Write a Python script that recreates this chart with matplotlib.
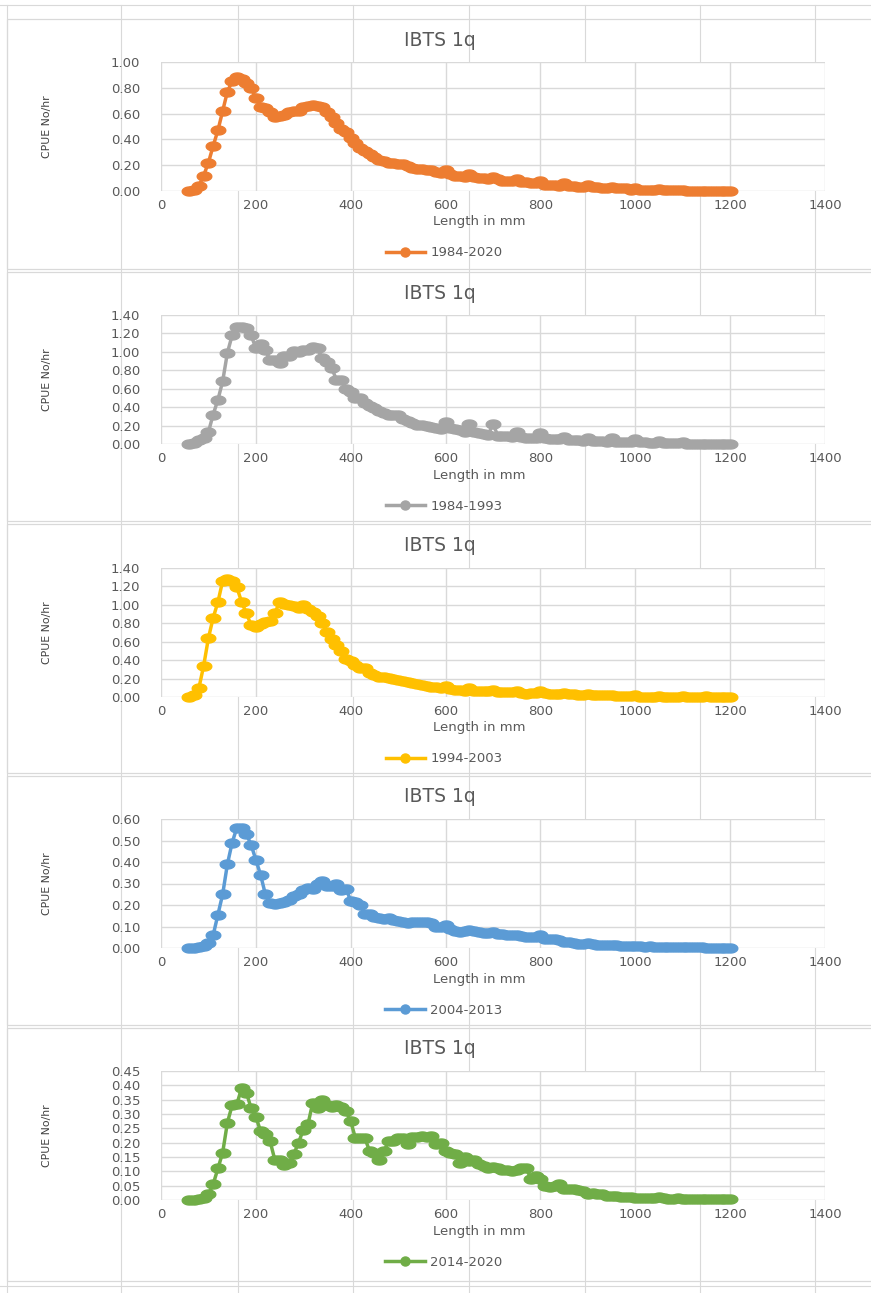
import matplotlib.pyplot as plt
from matplotlib.patches import Rectangle
from matplotlib.path import Path
from matplotlib.lines import Line2D
import numpy as np

plt.rcParams['font.family'] = ['DejaVu Sans']

# lengths in mm, 60..1200 by 10
length = list(range(60, 1210, 10))

cpue_1984_2020 = [
    0.00, 0.01, 0.04, 0.12, 0.22, 0.35, 0.47, 0.62, 0.77, 0.85,
    0.88, 0.87, 0.84, 0.80, 0.72, 0.65, 0.64, 0.61, 0.57, 0.58,
    0.59, 0.61, 0.62, 0.62, 0.65, 0.66, 0.67, 0.66, 0.65, 0.61,
    0.57, 0.53, 0.48, 0.46, 0.41, 0.37, 0.33, 0.31, 0.29, 0.26,
    0.24, 0.23, 0.22, 0.22, 0.21, 0.21, 0.19, 0.18, 0.17, 0.17,
    0.16, 0.16, 0.15, 0.14, 0.16, 0.13, 0.12, 0.12, 0.11, 0.13,
    0.11, 0.10, 0.10, 0.09, 0.11, 0.09, 0.08, 0.08, 0.08, 0.09,
    0.07, 0.07, 0.06, 0.06, 0.08, 0.05, 0.05, 0.05, 0.04, 0.06,
    0.04, 0.04, 0.03, 0.03, 0.05, 0.03, 0.03, 0.02, 0.02, 0.03,
    0.02, 0.02, 0.02, 0.01, 0.02, 0.01, 0.01, 0.01, 0.01, 0.015,
    0.01, 0.005, 0.005, 0.005, 0.005, 0.003, 0.003, 0.002, 0.002, 0.002,
    0.002, 0.002, 0.001, 0.001, 0.001]

cpue_1984_1993 = [
    0.00, 0.01, 0.04, 0.07, 0.13, 0.32, 0.48, 0.68, 0.99, 1.18,
    1.27, 1.27, 1.26, 1.18, 1.04, 1.08, 1.02, 0.91, 0.91, 0.88,
    0.96, 0.95, 1.01, 1.00, 1.02, 1.02, 1.05, 1.04, 0.93, 0.89,
    0.83, 0.69, 0.69, 0.60, 0.56, 0.50, 0.50, 0.44, 0.41, 0.39,
    0.36, 0.34, 0.32, 0.32, 0.32, 0.27, 0.25, 0.23, 0.21, 0.21,
    0.19, 0.18, 0.17, 0.16, 0.24, 0.17, 0.16, 0.15, 0.13, 0.22,
    0.13, 0.12, 0.11, 0.10, 0.22, 0.09, 0.09, 0.09, 0.08, 0.13,
    0.08, 0.07, 0.07, 0.06, 0.12, 0.06, 0.05, 0.05, 0.05, 0.08,
    0.04, 0.04, 0.04, 0.03, 0.07, 0.03, 0.03, 0.03, 0.02, 0.06,
    0.02, 0.02, 0.02, 0.02, 0.05, 0.02, 0.02, 0.01, 0.01, 0.03,
    0.01, 0.01, 0.01, 0.01, 0.02, 0.005, 0.005, 0.005, 0.005, 0.005,
    0.004, 0.004, 0.003, 0.003, 0.003]

cpue_1994_2003 = [
    0.00, 0.02, 0.10, 0.34, 0.64, 0.86, 1.03, 1.26, 1.28, 1.26,
    1.19, 1.03, 0.91, 0.78, 0.76, 0.79, 0.81, 0.83, 0.91, 1.03,
    1.01, 1.00, 0.99, 0.97, 1.00, 0.95, 0.92, 0.88, 0.80, 0.71,
    0.63, 0.56, 0.50, 0.41, 0.39, 0.35, 0.32, 0.31, 0.26, 0.24,
    0.22, 0.22, 0.21, 0.19, 0.18, 0.17, 0.16, 0.15, 0.14, 0.13,
    0.12, 0.11, 0.11, 0.10, 0.12, 0.09, 0.08, 0.08, 0.07, 0.10,
    0.07, 0.06, 0.06, 0.06, 0.08, 0.05, 0.05, 0.05, 0.05, 0.06,
    0.04, 0.03, 0.04, 0.04, 0.06, 0.04, 0.03, 0.03, 0.03, 0.04,
    0.03, 0.03, 0.02, 0.02, 0.03, 0.02, 0.02, 0.02, 0.02, 0.02,
    0.01, 0.01, 0.01, 0.01, 0.02, 0.005, 0.005, 0.005, 0.005, 0.01,
    0.005, 0.005, 0.005, 0.005, 0.01, 0.004, 0.004, 0.003, 0.003, 0.01,
    0.003, 0.003, 0.002, 0.002, 0.002]

cpue_2004_2013 = [
    0.00, 0.00, 0.003, 0.01, 0.025, 0.06, 0.155, 0.25, 0.39, 0.49,
    0.56, 0.56, 0.53, 0.48, 0.41, 0.34, 0.25, 0.21, 0.205, 0.21,
    0.215, 0.225, 0.24, 0.25, 0.27, 0.28, 0.275, 0.30, 0.31, 0.29,
    0.29, 0.30, 0.27, 0.275, 0.22, 0.215, 0.20, 0.16, 0.16, 0.145,
    0.14, 0.135, 0.14, 0.13, 0.125, 0.12, 0.115, 0.12, 0.12, 0.12,
    0.12, 0.115, 0.10, 0.10, 0.105, 0.09, 0.08, 0.075, 0.08, 0.085,
    0.08, 0.075, 0.07, 0.07, 0.075, 0.065, 0.065, 0.06, 0.06, 0.06,
    0.055, 0.05, 0.05, 0.05, 0.06, 0.04, 0.04, 0.04, 0.035, 0.03,
    0.03, 0.025, 0.02, 0.02, 0.025, 0.018, 0.016, 0.015, 0.013, 0.013,
    0.012, 0.01, 0.01, 0.009, 0.009, 0.007, 0.006, 0.008, 0.006, 0.006,
    0.005, 0.005, 0.004, 0.004, 0.004, 0.003, 0.003, 0.003, 0.003, 0.002,
    0.002, 0.002, 0.002, 0.002, 0.002]

cpue_2014_2020 = [
    0.00, 0.00, 0.004, 0.008, 0.02, 0.055, 0.11, 0.165, 0.27, 0.33,
    0.335, 0.39, 0.375, 0.32, 0.29, 0.24, 0.23, 0.205, 0.14, 0.14,
    0.123, 0.13, 0.16, 0.20, 0.245, 0.265, 0.34, 0.32, 0.35, 0.33,
    0.325, 0.33, 0.325, 0.31, 0.275, 0.215, 0.215, 0.215, 0.17, 0.165,
    0.14, 0.17, 0.205, 0.205, 0.215, 0.215, 0.195, 0.22, 0.22, 0.225,
    0.22, 0.225, 0.195, 0.20, 0.17, 0.165, 0.16, 0.13, 0.15, 0.135,
    0.14, 0.125, 0.12, 0.11, 0.115, 0.11, 0.105, 0.105, 0.10, 0.105,
    0.11, 0.11, 0.075, 0.085, 0.075, 0.05, 0.045, 0.05, 0.055, 0.04,
    0.04, 0.04, 0.035, 0.03, 0.02, 0.025, 0.02, 0.02, 0.015, 0.015,
    0.013, 0.012, 0.01, 0.01, 0.008, 0.006, 0.006, 0.008, 0.006, 0.01,
    0.006, 0.005, 0.005, 0.008, 0.005, 0.003, 0.003, 0.003, 0.003, 0.003,
    0.002, 0.002, 0.002, 0.002, 0.002]

series = [cpue_1984_2020, cpue_1984_1993, cpue_1994_2003, cpue_2004_2013, cpue_2014_2020]
labels = ['1984-2020', '1984-1993', '1994-2003', '2004-2013', '2014-2020']
colors = ['#ED7D31', '#A5A5A5', '#FFC000', '#5B9BD5', '#70AD47']
ymaxes = [1.00, 1.40, 1.40, 0.60, 0.45]
ysteps = [0.20, 0.20, 0.20, 0.10, 0.05]

W, H = 871, 1293
fig = plt.figure(figsize=(W / 100, H / 100), dpi=100)
grid_c = '#d9d9d9'
txt_c = '#595959'

# pixel -> figure fraction
def fx(px):
    return px / W

def fy(py):
    return 1 - py / H

# spreadsheet cells behind the charts
bg = fig.add_axes([0, 0, 1, 1])
bg.set_xlim(0, W)
bg.set_ylim(H, 0)
bg.axis('off')
for cx in [7, 121, 238, 353, 469, 585, 700, 815]:
    bg.plot([cx, cx], [5, H], color=grid_c, lw=0.8)
bg.plot([0, W], [5, 5], color=grid_c, lw=0.8)
bg.plot([0, W], [1286, 1286], color=grid_c, lw=0.8)

boxes = [(19, 269), (272, 521), (524, 773), (776, 1025), (1028, 1281)]
for top, bot in boxes:
    bg.add_patch(Rectangle((7, top), W, bot - top, facecolor='white',
                           edgecolor=grid_c, lw=0.9))

# stretched round marker like the reference
t = np.linspace(0, 2 * np.pi, 40)
ell = Path(np.column_stack([np.cos(t), 0.62 * np.sin(t)]), closed=True)

plot_tops = [62, 315, 568, 819, 1071]
plot_h = 129
for i in range(5):
    top = plot_tops[i]
    bot = top + plot_h
    ax = fig.add_axes([fx(161), fy(bot), fx(825) - fx(161), plot_h / H])
    ax.plot(length, series[i], color=colors[i], lw=2.5, marker=ell,
            markersize=10.5, clip_on=False, zorder=3)
    ax.set_xlim(0, 1400)
    ax.set_ylim(0, ymaxes[i])
    ax.set_xticks(range(0, 1401, 200))
    yt = np.arange(0, ymaxes[i] + 1e-9, ysteps[i])
    ax.set_yticks(yt)
    ax.set_yticklabels(['%.2f' % v for v in yt])
    ax.grid(True, color=grid_c, lw=1.0)
    ax.set_axisbelow(True)
    for s in ax.spines.values():
        s.set_visible(False)
    ax.tick_params(length=0, labelsize=9.5, labelcolor=txt_c)
    ax.tick_params(axis='x', pad=6)
    ax.tick_params(axis='y', pad=15)

    fig.text(fx(440), fy(top - 22), 'IBTS 1q', ha='center', va='center',
             fontsize=13.5, color=txt_c)
    fig.text(fx(47), fy(top + plot_h / 2), 'CPUE No/hr', rotation=90,
             ha='center', va='center', fontsize=7.8, color='#404040')
    fig.text(fx(479), fy(bot + 31), 'Length in mm', ha='center', va='center',
             fontsize=9.5, color=txt_c)
    h = Line2D([], [], color=colors[i], lw=2.5, marker='o', markersize=6.5)
    ax.legend([h], [labels[i]], loc='center', frameon=False,
              bbox_to_anchor=(fx(444), fy(bot + 62)), bbox_transform=fig.transFigure,
              fontsize=9.5, labelcolor=txt_c, handlelength=3.0, handletextpad=0.4)

fig.savefig('out.png', dpi=100)
